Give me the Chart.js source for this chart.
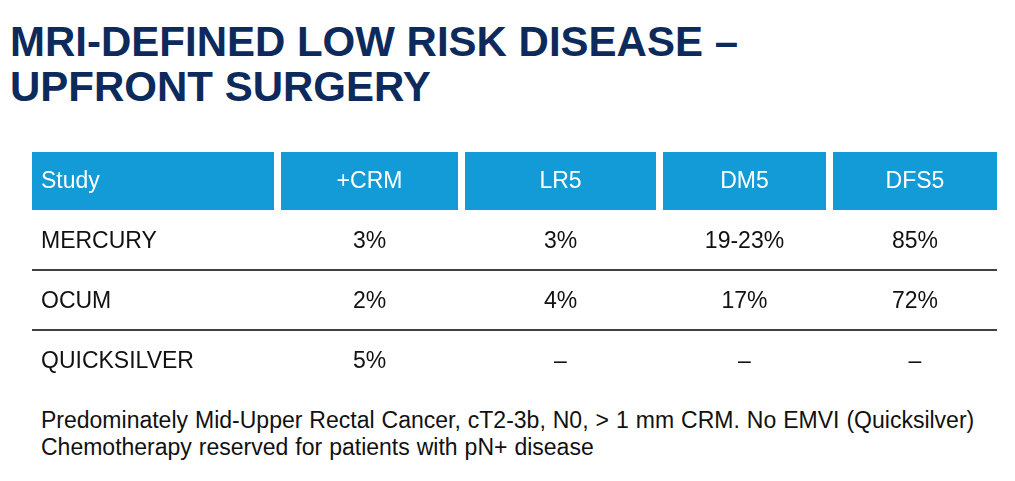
<!DOCTYPE html>
<html>
<head>
<meta charset="utf-8">
<script src="https://cdn.jsdelivr.net/npm/chart.js@4.4.1/dist/chart.umd.min.js"></script>
<style>
    body { margin: 0; background: #fff; width: 1015px; height: 481px; overflow: hidden; position: relative; font-family: "Liberation Sans", Arial, sans-serif; }
    .title { position: absolute; left: 10px; top: 19px; margin: 0; color: #0d2a5c; font-family: "Liberation Sans", Arial, sans-serif; font-weight: bold; font-size: 42px; line-height: 45px; white-space: nowrap; }
    .title span { display: inline-block; transform-origin: 0 50%; }
    .chart-box { position: absolute; left: 32px; top: 151px; width: 965px; height: 240px; }
    .note { position: absolute; left: 41px; top: 407px; color: #111; font-size: 23px; line-height: 27px; word-spacing: 0.6px; white-space: nowrap; }
</style>
</head>
<body>
<h1 class="title"><span id="t1">MRI-DEFINED LOW RISK DISEASE –</span><br><span id="t2">UPFRONT SURGERY</span></h1>
<div class="chart-box"><canvas id="tableChart"></canvas></div>
<div class="note">Predominately Mid-Upper Rectal Cancer, cT2-3b, N0, &gt; 1 mm CRM. No EMVI (Quicksilver)<br>Chemotherapy reserved for patients with pN+ disease</div>
<script>
// datos de la tabla
const columns = ['Study', '+CRM', 'LR5', 'DM5', 'DFS5'];
const studies = ['MERCURY', 'OCUM', 'QUICKSILVER'];
const crm = ['3%', '2%', '5%'];
const lr5 = ['3%', '4%', '–'];
const dm5 = ['19-23%', '17%', '–'];
const dfs5 = ['85%', '72%', '–'];

// layout de columnas (unidades del eje x)
const colEdges = [0, 249, 433, 631, 801, 965];
const gap = 7;
const rows = ['header'].concat(studies);
const body = studies.map((s, i) => [s, crm[i], lr5[i], dm5[i], dfs5[i]]);

// título condensado (como Arial Narrow)
const narrow = 728 / document.getElementById('t1').getBoundingClientRect().width;
document.querySelectorAll('.title span').forEach(s => s.style.transform = 'scaleX(' + narrow + ')');

const tablePlugin = {
    id: 'tablePlugin',
    afterDraw(chart) {
        const ctx = chart.ctx;
        const x = chart.scales.x;
        const y = chart.scales.y;
        const band = y.getPixelForValue(1) - y.getPixelForValue(0);
        ctx.save();
        ctx.font = '23px "Liberation Sans", Arial, sans-serif';
        ctx.textBaseline = 'middle';

        // cabecera
        const yh = y.getPixelForValue(0);
        columns.forEach((c, i) => {
            const x0 = x.getPixelForValue(colEdges[i]);
            const x1 = x.getPixelForValue(colEdges[i + 1]) - (i < columns.length - 1 ? gap : 0);
            ctx.fillStyle = '#129bd6';
            ctx.fillRect(x0, yh - band / 2 + 1, x1 - x0, band - 2);
            ctx.fillStyle = '#ffffff';
            if (i === 0) {
                ctx.textAlign = 'left';
                ctx.fillText(c, x0 + 9, yh + 1);
            } else {
                ctx.textAlign = 'center';
                ctx.fillText(c, (x0 + x1) / 2, yh + 1);
            }
        });

        // filas
        body.forEach((row, r) => {
            const yc = y.getPixelForValue(r + 1);
            row.forEach((v, i) => {
                const x0 = x.getPixelForValue(colEdges[i]);
                const x1 = x.getPixelForValue(colEdges[i + 1]) - (i < columns.length - 1 ? gap : 0);
                ctx.fillStyle = '#111111';
                if (i === 0) {
                    ctx.textAlign = 'left';
                    ctx.fillText(v, x0 + 9, yc + 1);
                } else {
                    ctx.textAlign = 'center';
                    ctx.fillText(v, (x0 + x1) / 2, yc + 1);
                }
            });
            if (r < body.length - 1) {
                const yl = Math.round(yc + band / 2) - 1;
                ctx.strokeStyle = '#404040';
                ctx.lineWidth = 2;
                ctx.beginPath();
                ctx.moveTo(x.getPixelForValue(colEdges[0]), yl);
                ctx.lineTo(x.getPixelForValue(colEdges[colEdges.length - 1]), yl);
                ctx.stroke();
            }
        });
        ctx.restore();
    }
};

const ctxTable = document.getElementById('tableChart').getContext('2d');
const tableChart = new Chart(ctxTable, {
    type: 'bar',
    data: {
        labels: rows,
        datasets: [{ data: rows.map(() => null) }]
    },
    options: {
        indexAxis: 'y',
        responsive: true,
        maintainAspectRatio: false,
        animation: false,
        layout: { padding: 0 },
        plugins: { legend: { display: false }, tooltip: { enabled: false } },
        scales: {
            x: { type: 'linear', min: colEdges[0], max: colEdges[colEdges.length - 1], display: false },
            y: { type: 'category', offset: true, display: false }
        }
    },
    plugins: [tablePlugin]
});
</script>
</body>
</html>
